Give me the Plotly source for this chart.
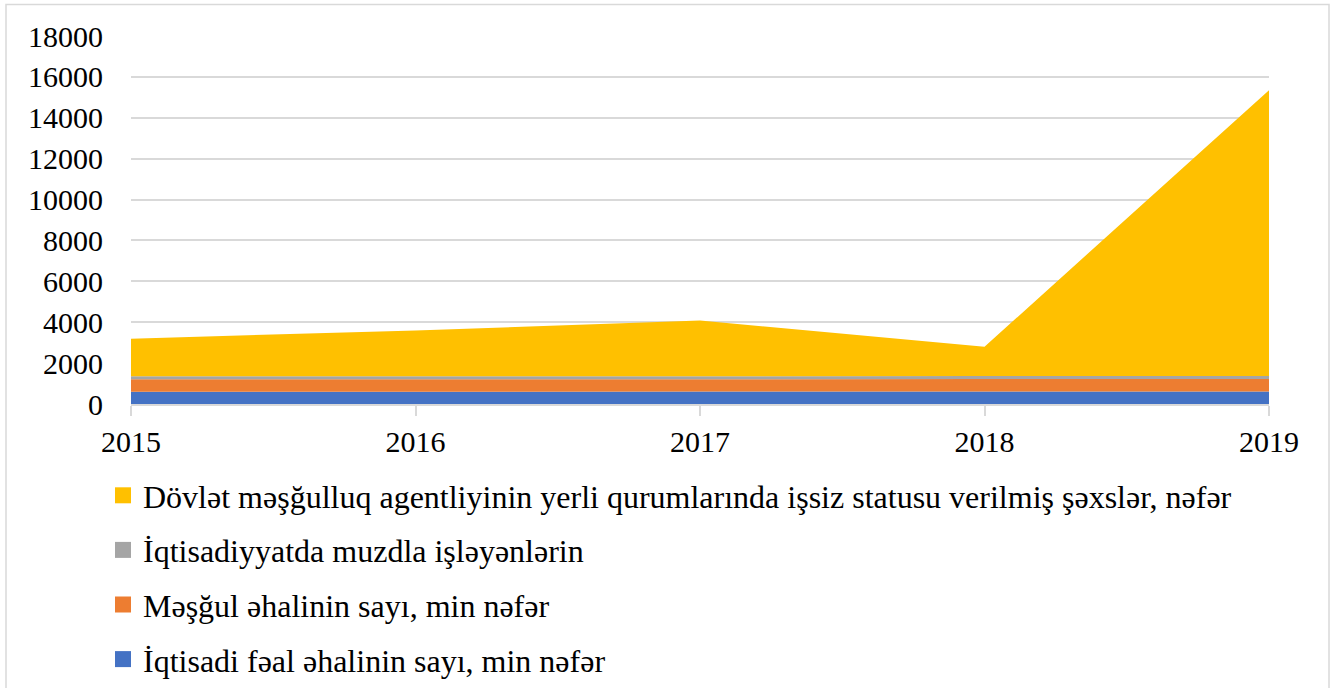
import plotly.graph_objects as go

years = [2015, 2016, 2017, 2018, 2019]
names = [
    "İqtisadi fəal əhalinin sayı, min nəfər",
    "Məşğul əhalinin sayı, min nəfər",
    "İqtisadiyyatda muzdla işləyənlərin",
    "Dövlət məşğulluq agentliyinin yerli qurumlarında işsiz statusu verilmiş şəxslər, nəfər",
]
active = [600, 603, 606, 609, 612]
employed = [605, 607, 609, 611, 613]
hired = [148, 146, 145, 144, 143]
unemployed = [1840, 2245, 2720, 1433, 13984]
y_ticks = [0, 2000, 4000, 6000, 8000, 10000, 12000, 14000, 16000, 18000]

series = [active, employed, hired, unemployed]
colors = ["#4472C4", "#ED7D31", "#A5A5A5", "#FFC000"]

FONT = "Times New Roman, Liberation Serif, serif"

fig = go.Figure()
for i, (nm, vals, col) in enumerate(zip(names, series, colors)):
    fig.add_trace(go.Scatter(
        x=years, y=vals, name=nm, stackgroup="one", mode="none",
        fillcolor=col, line=dict(width=0), showlegend=False,
        hoverinfo="x+y+name",
    ))
# legend entries with square markers (top-to-bottom: yellow, grey, orange, blue)
for i in [3, 2, 1, 0]:
    fig.add_trace(go.Scatter(
        x=[None], y=[None], name=names[i], mode="markers",
        marker=dict(symbol="square", size=17, color=colors[i]),
        legendgroup=f"g{i}", showlegend=True,
    ))

L, R, T, B = 131, 67, 36, 284
W, H = 1336, 688
pw, ph = W - L - R, H - T - B

def px(x):
    return (x - L) / pw

def py(y):
    return (H - B - y) / ph

fig.update_layout(
    width=W, height=H, autosize=False,
    margin=dict(l=L, r=R, t=T, b=B, autoexpand=False),
    paper_bgcolor="white", plot_bgcolor="white",
    font=dict(family=FONT, size=30, color="black"),
    showlegend=True,
    legend=dict(
        xref="container", yref="container",
        x=103 / W, y=1 - 468 / H, xanchor="left", yanchor="top",
        traceorder="grouped", tracegroupgap=10,
        font=dict(family=FONT, size=32, color="black"),
        bgcolor="rgba(0,0,0,0)", itemsizing="trace",
    ),
    xaxis=dict(
        range=[2015, 2019], tickmode="array", tickvals=years,
        ticktext=[str(y) for y in years],
        showgrid=False, zeroline=False,
        showline=True, linecolor="#D9D9D9", linewidth=1.5,
        ticks="outside", ticklen=10, tickcolor="#D9D9D9", tickwidth=1.5,
        tickfont=dict(family=FONT, size=30),
    ),
    yaxis=dict(
        range=[0, 18000], tickmode="array", tickvals=y_ticks,
        ticktext=[str(v) for v in y_ticks],
        showgrid=True, gridcolor="#D9D9D9", gridwidth=1.5,
        zeroline=False, showline=False, ticks="",
        ticklabelstandoff=27,
        tickfont=dict(family=FONT, size=30),
    ),
    shapes=[dict(
        type="rect", xref="paper", yref="paper",
        x0=px(6), x1=px(1329), y0=py(692), y1=py(4.5),
        line=dict(color="#D9D9D9", width=1.5), fillcolor="rgba(0,0,0,0)",
        layer="below",
    )],
)

fig.write_html(
    "out.html",
    config={"responsive": False, "displayModeBar": False},
    post_script="document.body.style.margin='0px';document.body.style.overflow='hidden';",
)
